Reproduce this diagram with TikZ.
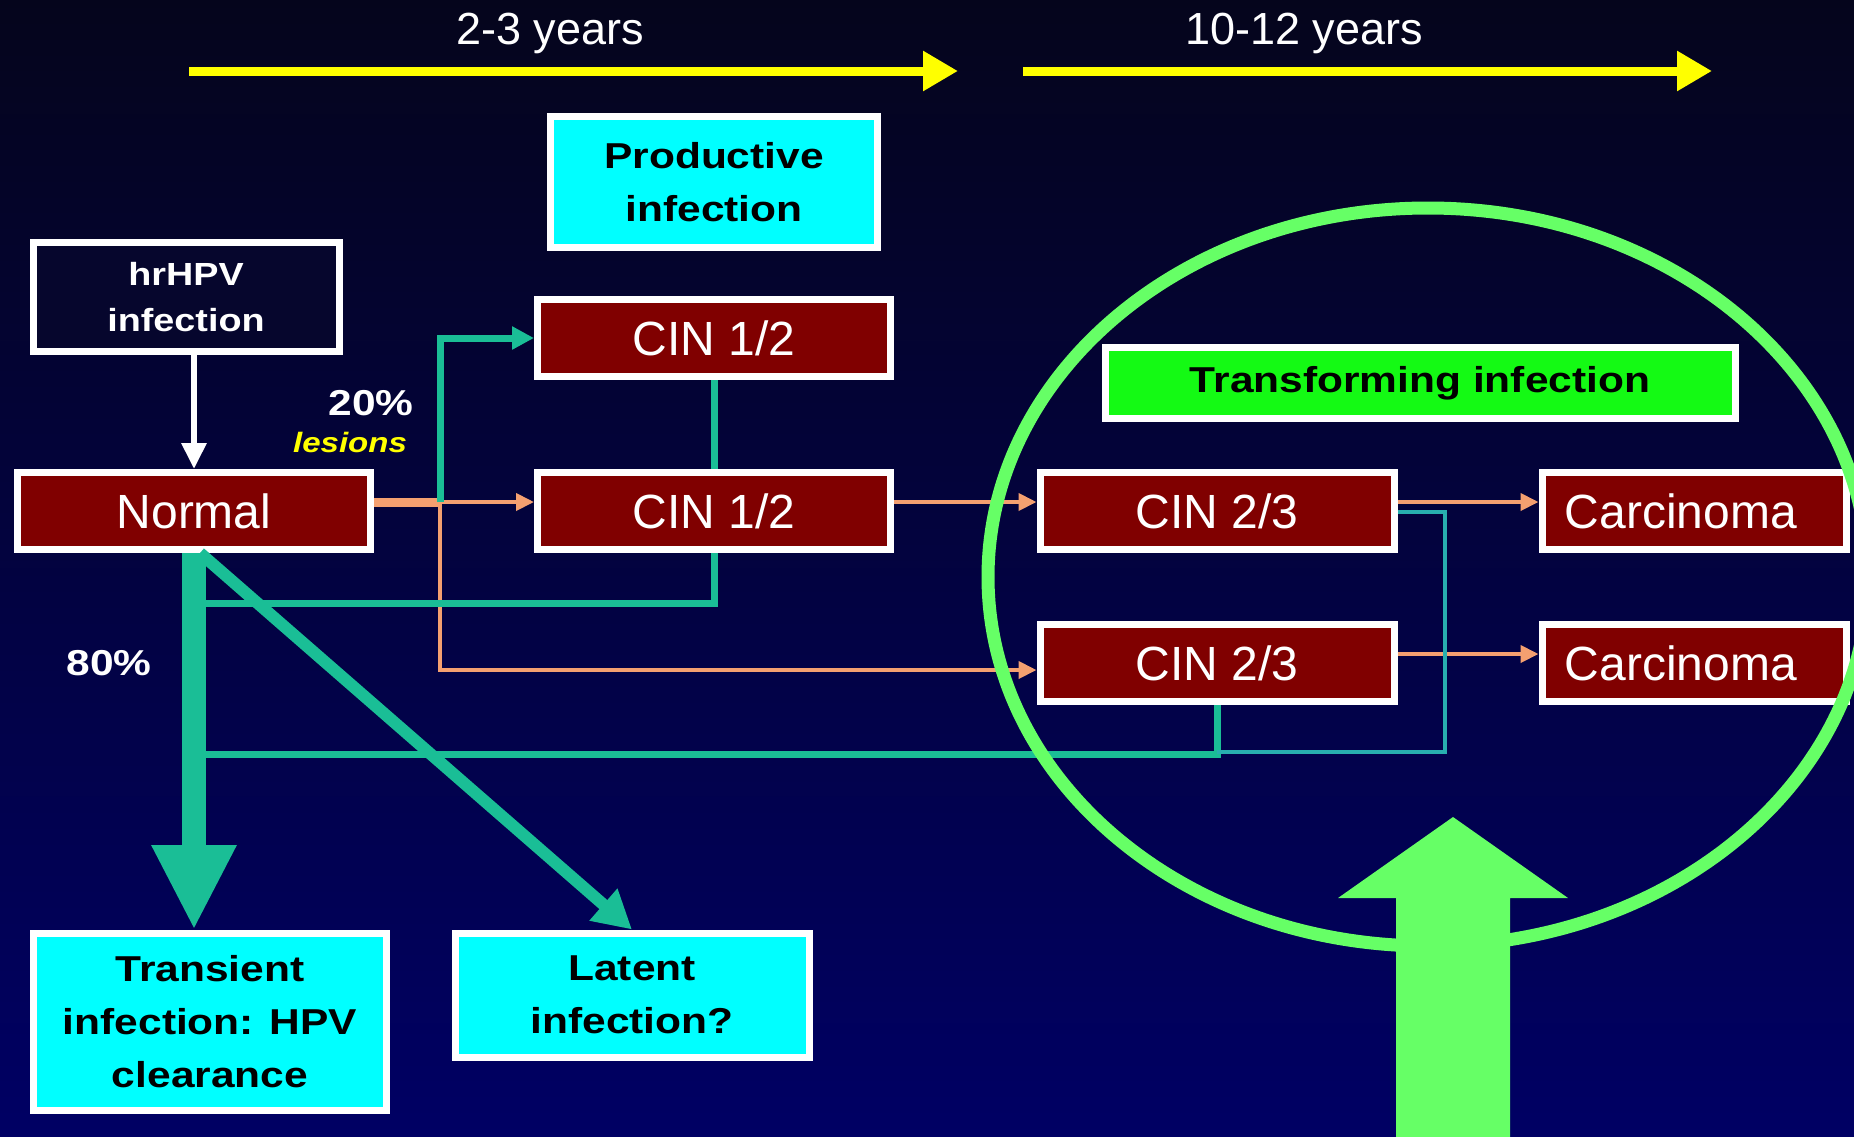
\documentclass[tikz,border=0pt]{standalone}
\usepackage{fontspec}
\setmainfont{Liberation Sans}
\newfontfamily\bst[FakeStretch=1.18]{Liberation Sans}
\usetikzlibrary{arrows.meta,calc}
\definecolor{bgtop}{RGB}{5,5,28}
\definecolor{bgbot}{RGB}{0,0,100}
\definecolor{cinred}{RGB}{128,0,0}
\definecolor{cyanbox}{RGB}{0,255,255}
\definecolor{greenbox}{RGB}{20,250,20}
\definecolor{ringgreen}{RGB}{102,255,102}
\definecolor{tealg}{RGB}{26,190,150}
\definecolor{tealb}{RGB}{40,175,175}
\definecolor{salmon}{RGB}{244,160,112}
\definecolor{yel}{RGB}{255,255,0}
\definecolor{navybox}{RGB}{6,6,45}
\begin{document}
\begin{tikzpicture}[x=1pt,y=-1pt,
  box/.style={draw=white, line width=7pt, inner sep=0pt, align=center},
  redbox/.style={box, fill=cinred, text=white, font=\fontsize{48}{56}\selectfont, minimum width=353pt, minimum height=77pt},
  cyanb/.style={box, fill=cyanbox, text=black, font=\bst\bfseries\fontsize{36}{53}\selectfont},
  oarrow/.style={draw=salmon, line width=4pt, -{Triangle[length=18pt,width=17pt]}},
  gline/.style={draw=tealg, line width=7pt},
  garrow/.style={gline, -{Triangle[length=22pt,width=22pt]}},
  tline/.style={draw=tealb, line width=4.5pt},
  yarrow/.style={draw=yel, line width=9pt, -{Triangle[length=35pt,width=38pt]}},
  lbl/.style={text=white, font=\bst\bfseries\fontsize{36}{40}\selectfont, inner sep=0pt, anchor=base},
]
\useasboundingbox (0,0) rectangle (1854,1136);
\clip (0,0) rectangle (1854,1136);
\shade[top color=bgtop, bottom color=bgbot] (0,0) rectangle (1854,1136);

% time arrows
\coordinate (ya1) at (189,71);
\coordinate (ya2) at (958,71);
\coordinate (yb1) at (1023,71);
\coordinate (yb2) at (1712,71);
\draw[yarrow] (ya1) -- (ya2);
\draw[yarrow] (yb1) -- (yb2);
\node[text=white, font=\fontsize{45}{50}\selectfont, inner sep=0pt, anchor=base] (t23) at (550,44) {2-3 years};
\node[text=white, font=\fontsize{45}{50}\selectfont, inner sep=0pt, anchor=base] (t1012) at (1304,44) {10-12 years};

% boxes
\node[cyanb, minimum width=327pt, minimum height=131pt] (prod) at (714,182) {Productive\\infection};
\node[box, fill=navybox, text=white, font=\bst\bfseries\fontsize{32}{46}\selectfont, minimum width=306pt, minimum height=109pt] (hrhpv) at (186,297) {hrHPV\\infection};
\node[redbox] (normal) at (194,511) {Normal};
\node[redbox] (cinA) at (714,338) {CIN 1/2};
\node[redbox] (cinB) at (714,511) {CIN 1/2};
\node[box, fill=greenbox, text=black, font=\bst\bfseries\fontsize{36}{40}\selectfont, minimum width=630pt, minimum height=71pt] (trans) at (1420,383) {Transforming infection};
\node[redbox, minimum width=354pt] (cinC) at (1217,511) {CIN 2/3};
\node[redbox, minimum width=354pt] (cinD) at (1217,663) {CIN 2/3};
\node[redbox, minimum width=304pt] (carA) at (1694,511) {Carcinoma\hspace{26pt}};
\node[redbox, minimum width=304pt] (carB) at (1694,663) {Carcinoma\hspace{26pt}};
\node[cyanb, minimum width=353pt, minimum height=177pt] (transient) at (210,1022) {Transient\\infection: HPV\\clearance};
\node[cyanb, minimum width=354pt, minimum height=124pt] (latent) at (632,995) {Latent\\infection?};

% connector points
\coordinate (j) at (440,502);
\coordinate (k) at (440,670);
\coordinate (m1) at (714,603);
\coordinate (m1e) at (197,603);
\coordinate (m2) at (1217,754);
\coordinate (m2e) at (197,754);
\coordinate (t1) at (1445,512);
\coordinate (t2) at (1445,752);
\coordinate (cb) at (1398,654);

% white arrow
\draw[white, line width=6pt, -{Triangle[length=26pt,width=24pt]}] (normal.north |- hrhpv.south) -- (normal.north);

% orange connectors
\draw[draw=salmon, line width=9pt] (normal.east |- j) -- (j);
\draw[oarrow] (j) -- (cinB.west |- j);
\draw[oarrow] (j) -- (k) -- (cinD.west |- k);
\draw[oarrow] (cinB.east |- j) -- (cinC.west |- j);
\draw[oarrow] (cinC.east |- j) -- (carA.west |- j);
\draw[oarrow] (cinD.east |- cb) -- (carB.west |- cb);

% green connectors
\draw[garrow] (j) -- (j |- cinA.west) -- (cinA.west);
\draw[gline] (cinA.south) -- (cinB.north);
\draw[gline] (cinB.south) -- (m1) -- (m1e);
\draw[gline] (cinD.south) -- (m2) -- (m2e);
\draw[tline] (cinC.east |- t1) -- (t1) -- (t2) -- (cinD.south |- t2);

% thick regression arrows
\draw[draw=tealg, line width=24pt, -{Triangle[length=85pt,width=79pt]}] (normal.south) -- (normal.south |- transient.north);
\draw[draw=tealg, line width=12pt, -{Triangle[length=38pt,width=40pt]}] ($(normal.south)+(6,0)$) -- (latent.north);

% labels
\node[lbl] (p20) at (371,415) {20\%};
\node[lbl, text=yel, font=\bst\bfseries\itshape\fontsize{28}{32}\selectfont] (les) at (350,452) {lesions};
\node[lbl] (p80) at (109,675) {80\%};

% ring and big arrow
\draw[draw=ringgreen, line width=13pt] (1428,577) ellipse [x radius=440, y radius=369];
\fill[ringgreen] (1396,1150) -- (1396,898) -- (1338,898) -- (1453,817) -- (1568,898) -- (1510,898) -- (1510,1150) -- cycle;
\end{tikzpicture}
\end{document}
